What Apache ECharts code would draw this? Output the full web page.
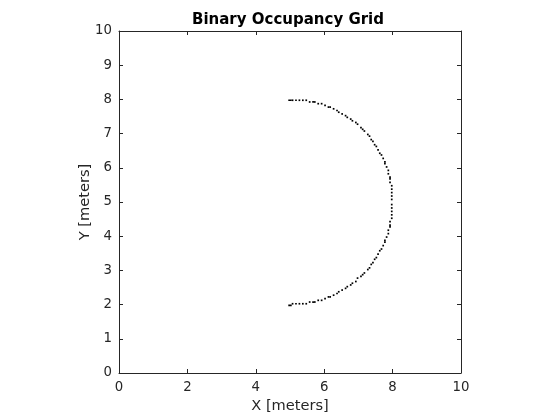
<!DOCTYPE html>
<html><head><meta charset="utf-8">
<script src="https://cdn.jsdelivr.net/npm/echarts@6/dist/echarts.min.js"></script>
<style>html,body{margin:0;padding:0;background:#fff}#c{width:560px;height:420px}</style>
</head><body><div id="c"></div>
<script>
// Occupied cells (lower-left corner, meters), grid resolution 20 cells/m
const cellSize = 0.05;
const upperX = [4.95,5.00,5.05,5.15,5.25,5.35,5.45,5.55,5.65,5.70,5.80,5.90,6.00,6.10,6.15,6.25,6.35,6.40,6.50,6.60,6.65,6.75,6.80,6.90,6.95,7.05,7.10,7.15,7.25,7.30,7.35,7.40,7.45,7.50,7.55,7.60,7.65,7.70,7.75,7.75,7.80,7.85,7.85,7.90,7.90,7.90,7.95,7.95,7.95,7.95,7.95];
const upperY = [7.95,7.95,7.95,7.95,7.95,7.95,7.95,7.90,7.90,7.90,7.85,7.85,7.80,7.75,7.75,7.70,7.65,7.60,7.55,7.50,7.45,7.40,7.35,7.30,7.25,7.15,7.10,7.05,6.95,6.90,6.80,6.75,6.65,6.60,6.50,6.40,6.35,6.25,6.15,6.10,6.00,5.90,5.80,5.70,5.65,5.55,5.45,5.35,5.25,5.15,5.05];
const lowerX = [4.95,5.00,5.05,5.15,5.25,5.35,5.45,5.55,5.65,5.70,5.80,5.90,6.00,6.10,6.15,6.25,6.35,6.40,6.50,6.60,6.65,6.75,6.80,6.90,6.95,7.05,7.10,7.15,7.25,7.30,7.35,7.40,7.45,7.50,7.55,7.60,7.65,7.70,7.75,7.75,7.80,7.85,7.85,7.90,7.90,7.90,7.95,7.95,7.95,7.95,7.95];
const lowerY = [1.95,1.95,2.00,2.00,2.00,2.00,2.00,2.05,2.05,2.05,2.10,2.10,2.15,2.20,2.20,2.25,2.30,2.35,2.40,2.45,2.50,2.55,2.60,2.65,2.75,2.80,2.85,2.90,3.00,3.05,3.15,3.20,3.30,3.35,3.45,3.55,3.60,3.70,3.80,3.85,3.95,4.05,4.15,4.25,4.30,4.40,4.50,4.60,4.70,4.80,4.90];
const xTicks = [0,2,4,6,8,10];
const yTicks = [0,1,2,3,4,5,6,7,8,9,10];
const titleText = 'Binary Occupancy Grid';
const xName = 'X [meters]';
const yName = 'Y [meters]';

const cells = [];
upperX.forEach((x,i)=>cells.push([x, upperY[i]]));
lowerX.forEach((x,i)=>cells.push([x, lowerY[i]]));

const ink = '#262626';
const font = 'DejaVu Sans';
const chart = echarts.init(document.getElementById('c'), null, {renderer:'canvas'});
const axisCommon = {
  type:'value', min:0, max:10,
  axisLine:{show:true, onZero:false, lineStyle:{color:ink, width:1}},
  axisTick:{show:true, inside:true, length:4, lineStyle:{color:ink}},
  splitLine:{show:false}
};
chart.setOption({
  animation:false,
  backgroundColor:'#fff',
  title:{text:titleText, left:283, top:8, textAlign:'center',
    textStyle:{fontFamily:font, fontSize:15, fontWeight:'bold', color:'#000'}},
  grid:{left:119, top:31, width:342, height:342},
  xAxis:[
    Object.assign({}, axisCommon, {position:'bottom', interval:2,
      name:xName, nameLocation:'middle', nameGap:25,
      nameTextStyle:{fontFamily:font, fontSize:14.6, color:ink},
      axisLabel:{fontFamily:font, fontSize:13.3, color:ink, margin:8}}),
    Object.assign({}, axisCommon, {position:'top', interval:2, axisLabel:{show:false}})
  ],
  yAxis:[
    Object.assign({}, axisCommon, {position:'left', interval:1,
      name:yName, nameLocation:'middle', nameGap:26, nameMoveOverlap:false,
      nameTextStyle:{fontFamily:font, fontSize:14.6, color:ink},
      axisLabel:{fontFamily:font, fontSize:13.3, color:ink, margin:7}}),
    Object.assign({}, axisCommon, {position:'right', interval:1, axisLabel:{show:false}})
  ],
  series:[{
    type:'custom', xAxisIndex:0, yAxisIndex:0, data:cells,
    renderItem:function(params, api){
      const p = api.coord([api.value(0), api.value(1)+cellSize]);
      const s = api.size([cellSize, cellSize]);
      return {type:'rect', shape:{x:p[0], y:p[1], width:s[0], height:s[1]},
        style:{fill:'#000'}};
    }
  }]
});
</script></body></html>
